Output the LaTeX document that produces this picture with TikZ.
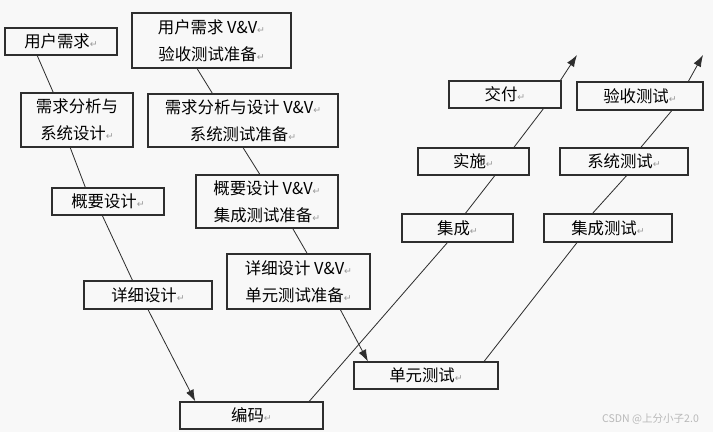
\documentclass[tikz,border=0pt]{standalone}
\usepackage{fontspec}
\setmainfont{Noto Sans CJK SC}
\newfontfamily\arrowfont{DejaVu Sans}
\usepackage{tikz}
\usetikzlibrary{arrows.meta,calc}
\definecolor{bgcol}{HTML}{F8F8F8}
\definecolor{inkcol}{HTML}{2E2E2E}
\newcommand{\pmk}{{\arrowfont\fontsize{8}{8}\selectfont\color{gray!80}↵}}

\begin{document}
\begin{tikzpicture}[
    x=0.03cm, y=-0.03cm,
    font=\fontsize{14}{23}\selectfont,
    stage_box/.style={draw=inkcol, line width=1pt, fill=bgcol, rectangle, inner sep=0pt, align=center, text=black},
    link/.style={draw=inkcol, line width=0.7pt},
    flow/.style={link, -{Latex[length=10pt,width=7pt]}}
]

\fill[bgcol] (0,0) rectangle (713,432);
\useasboundingbox (0,0) rectangle (713,432);

\node[stage_box, minimum width=3.36cm, minimum height=0.81cm] (ur) at (61,41.5) {用户需求\pmk};
\node[stage_box, minimum width=3.36cm, minimum height=1.62cm] (xq) at (77,120) {需求分析与\\系统设计\pmk};
\node[stage_box, minimum width=3.36cm, minimum height=0.81cm] (gy) at (108,201.5) {概要设计\pmk};
\node[stage_box, minimum width=3.84cm, minimum height=0.84cm] (xx) at (148,295) {详细设计\pmk};
\node[stage_box, minimum width=4.29cm, minimum height=0.81cm] (bm) at (251.5,415.5) {编码\pmk};

\node[stage_box, minimum width=4.77cm, minimum height=1.65cm] (urvv) at (211.5,40.5) {用户需求 V\&V\pmk\\验收测试准备\pmk};
\node[stage_box, minimum width=5.70cm, minimum height=1.59cm] (xqvv) at (243,120.5) {需求分析与设计 V\&V\pmk\\系统测试准备\pmk};
\node[stage_box, minimum width=4.26cm, minimum height=1.59cm] (gyvv) at (267,201.5) {概要设计 V\&V\pmk\\集成测试准备\pmk};
\node[stage_box, minimum width=4.29cm, minimum height=1.65cm] (xxvv) at (298.5,281.5) {详细设计 V\&V\pmk\\单元测试准备\pmk};
\node[stage_box, minimum width=4.32cm, minimum height=0.81cm] (dy) at (426,375.5) {单元测试\pmk};

\node[stage_box, minimum width=3.33cm, minimum height=0.84cm] (jc) at (457.5,228) {集成\pmk};
\node[stage_box, minimum width=3.33cm, minimum height=0.81cm] (ss) at (473.5,161.5) {实施\pmk};
\node[stage_box, minimum width=3.36cm, minimum height=0.81cm] (jf) at (505,94.5) {交付\pmk};

\node[stage_box, minimum width=3.84cm, minimum height=0.84cm] (jcs) at (608,228) {集成测试\pmk};
\node[stage_box, minimum width=3.84cm, minimum height=0.81cm] (xt) at (624,161.5) {系统测试\pmk};
\node[stage_box, minimum width=3.78cm, minimum height=0.84cm] (ys) at (640,96) {验收测试\pmk};

\coordinate (jf_out) at (577,55);
\coordinate (ys_out) at (703,55);

\draw[link] ($(ur.south west)!0.29!(ur.south east)$) -- ($(xq.north west)!0.29!(xq.north east)$);
\draw[link] ($(xq.south west)!0.44!(xq.south east)$) -- ($(gy.north west)!0.30!(gy.north east)$);
\draw[link] ($(gy.south west)!0.45!(gy.south east)$) -- ($(xx.north west)!0.38!(xx.north east)$);
\draw[flow] ($(xx.south west)!0.50!(xx.south east)$) -- ($(bm.north west)!0.11!(bm.north east)$);

\draw[link] ($(urvv.south west)!0.41!(urvv.south east)$) -- ($(xqvv.north west)!0.34!(xqvv.north east)$);
\draw[link] ($(xqvv.south west)!0.50!(xqvv.south east)$) -- ($(gyvv.north west)!0.45!(gyvv.north east)$);
\draw[link] ($(gyvv.south west)!0.68!(gyvv.south east)$) -- ($(xxvv.north west)!0.56!(xxvv.north east)$);
\draw[flow] ($(xxvv.south west)!0.79!(xxvv.south east)$) -- ($(dy.north west)!0.10!(dy.north east)$);

\draw[link] ($(bm.north west)!0.90!(bm.north east)$) -- ($(jc.south west)!0.41!(jc.south east)$);
\draw[link] ($(jc.north west)!0.57!(jc.north east)$) -- ($(ss.south west)!0.69!(ss.south east)$);
\draw[link] ($(ss.north west)!0.86!(ss.north east)$) -- ($(jf.south west)!0.84!(jf.south east)$);
\draw[flow] ($(jf.north west)!0.99!(jf.north east)$) -- (jf_out);

\draw[link] ($(dy.north west)!0.90!(dy.north east)$) -- ($(jcs.south west)!0.26!(jcs.south east)$);
\draw[link] ($(jcs.north west)!0.38!(jcs.north east)$) -- ($(xt.south west)!0.52!(xt.south east)$);
\draw[link] ($(xt.north west)!0.63!(xt.north east)$) -- ($(ys.south west)!0.75!(ys.south east)$);
\draw[flow] ($(ys.north west)!0.88!(ys.north east)$) -- (ys_out);

\node[anchor=east, text=gray!55, font=\fontsize{9}{9}\selectfont] (mark) at (703,419) {CSDN @上分小子2.0};

\end{tikzpicture}
\end{document}
